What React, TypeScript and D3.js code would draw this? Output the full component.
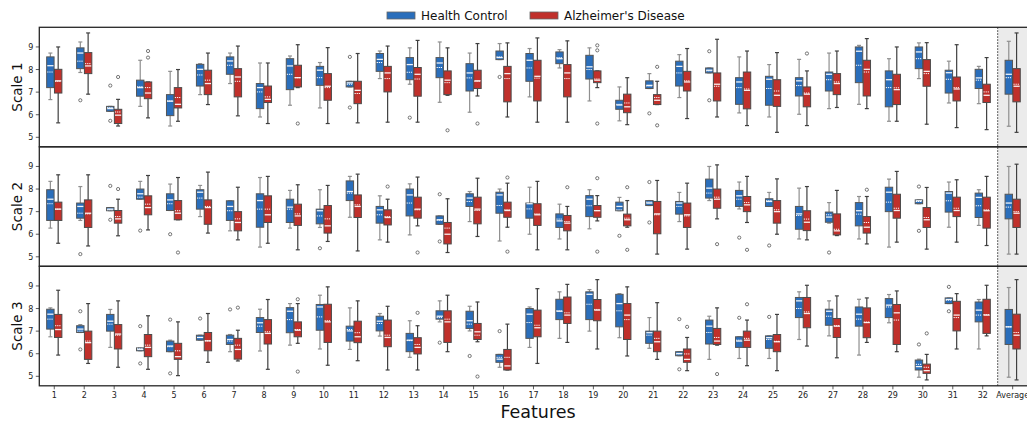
import React from 'react';
import * as d3 from 'd3';

// [whiskerLow, q1, median, q3, whiskerHigh, mean]
type Stat = [number, number, number, number, number, number];

const featureLabels = [
  '1', '2', '3', '4', '5', '6', '7', '8', '9', '10', '11', '12', '13', '14', '15', '16',
  '17', '18', '19', '20', '21', '22', '23', '24', '25', '26', '27', '28', '29', '30', '31', '32', 'Average',
];
const yTicks = [5, 6, 7, 8, 9];
const groups = ['Health Control', "Alzheimer's Disease"];
const colors = ['#2a6ebb', '#c0302b'];

const scale1HC: Stat[] = [
  [6.67, 7.2, 8.17, 8.56, 8.73, 7.89], [7.87, 8.04, 8.73, 8.96, 9.22, 8.37], [6.15, 6.15, 6.27, 6.37, 6.37, 6.32],
  [6.37, 6.82, 7.2, 7.53, 8.41, 7.24], [5.5, 5.96, 6.6, 6.89, 7.92, 6.61], [6.89, 7.27, 8.01, 8.23, 8.26, 7.76],
  [7.38, 7.79, 8.38, 8.56, 8.73, 8.19], [5.9, 6.27, 7.2, 7.38, 8.29, 7.01], [6.42, 7.11, 8.16, 8.48, 8.6, 7.79],
  [6.3, 7.3, 7.97, 8.14, 8.31, 7.64], [7.23, 7.23, 7.41, 7.48, 7.48, 7.35], [7.6, 7.92, 8.45, 8.71, 8.82, 8.31],
  [7.35, 7.55, 8.22, 8.53, 8.96, 7.88], [6.55, 7.64, 8.29, 8.53, 9.22, 8.09], [6.11, 7.05, 7.85, 8.26, 8.73, 7.63],
  [8.44, 8.44, 8.53, 8.82, 9.15, 8.56], [6.79, 7.48, 8.41, 8.71, 8.93, 8.07], [8.07, 8.26, 8.48, 8.78, 8.88, 8.53],
  [6.61, 7.58, 8.12, 8.63, 8.96, 8.0], [5.73, 6.24, 6.43, 6.64, 7.23, 6.46], [7.16, 7.16, 7.3, 7.5, 7.82, 7.27],
  [6.76, 7.27, 8.14, 8.37, 8.66, 7.85], [7.85, 7.85, 7.97, 8.07, 8.07, 7.94], [6.08, 6.46, 7.45, 7.64, 8.56, 7.2],
  [5.9, 6.42, 7.57, 7.7, 8.22, 7.16], [6.02, 6.83, 7.5, 7.64, 8.45, 7.29], [6.27, 7.05, 7.79, 7.89, 8.73, 7.55],
  [6.46, 7.42, 8.81, 9.0, 9.07, 8.19], [5.71, 6.35, 7.55, 7.94, 8.48, 7.2], [7.6, 8.04, 8.78, 9.0, 9.18, 8.48],
  [6.52, 6.96, 7.86, 7.97, 8.37, 7.57], [6.49, 7.16, 7.63, 8.01, 8.14, 7.53], [5.49, 6.91, 7.79, 8.41, 9.25, 7.64],
];
const scale1AD: Stat[] = [
  [5.64, 6.96, 7.5, 8.01, 9.0, 7.48], [6.91, 7.82, 8.16, 8.75, 9.62, 8.26], [5.5, 5.61, 5.98, 6.24, 6.68, 6.12],
  [5.86, 6.71, 6.96, 7.45, 7.45, 7.2], [5.71, 6.3, 6.46, 7.2, 8.0, 6.76], [6.45, 6.89, 7.38, 7.97, 8.73, 7.53],
  [5.95, 6.79, 7.67, 8.04, 9.04, 7.48], [5.61, 6.54, 6.68, 7.27, 8.29, 6.79], [7.2, 7.23, 7.64, 8.19, 9.1, 7.64],
  [5.61, 6.64, 7.26, 7.82, 8.97, 7.2], [5.64, 6.49, 7.08, 7.48, 8.71, 6.94], [5.67, 7.01, 7.85, 8.14, 9.04, 7.6],
  [5.67, 6.82, 7.79, 8.09, 9.29, 7.58], [6.86, 6.89, 7.53, 7.94, 8.96, 7.42], [6.83, 7.16, 7.5, 7.97, 9.15, 7.48],
  [5.9, 6.57, 7.82, 8.14, 9.18, 7.6], [5.67, 6.61, 7.7, 8.41, 9.4, 7.62], [5.67, 6.79, 7.85, 8.22, 9.27, 7.6],
  [7.2, 7.42, 7.53, 7.94, 7.94, 7.58], [5.56, 6.09, 6.35, 6.91, 7.64, 6.52], [6.45, 6.45, 6.64, 6.89, 7.48, 6.76],
  [5.83, 7.05, 7.45, 7.92, 8.93, 7.5], [5.9, 6.61, 7.35, 7.85, 9.34, 7.26], [5.52, 6.26, 7.08, 7.89, 8.82, 7.14],
  [5.22, 6.37, 6.86, 7.55, 8.75, 7.05], [5.52, 6.35, 6.91, 7.23, 7.94, 6.96], [6.32, 6.89, 7.38, 7.82, 8.82, 7.45],
  [6.27, 6.83, 8.01, 8.41, 9.37, 7.89], [5.71, 6.45, 7.11, 7.79, 9.0, 7.19], [5.58, 7.26, 7.92, 8.44, 9.19, 7.82],
  [5.43, 6.61, 7.14, 7.67, 9.1, 7.2], [5.34, 6.54, 6.86, 7.35, 8.53, 7.01], [5.22, 6.57, 7.26, 8.04, 9.62, 7.35],
];
const scale2HC: Stat[] = [
  [6.27, 6.61, 7.55, 7.97, 8.34, 7.35], [6.61, 6.71, 7.23, 7.38, 8.11, 6.93], [7.04, 7.04, 7.11, 7.18, 7.18, 7.08],
  [7.55, 7.55, 7.79, 8.0, 8.34, 7.64], [7.05, 7.05, 7.52, 7.79, 8.22, 7.35], [6.78, 7.11, 7.86, 7.97, 8.16, 7.6],
  [6.15, 6.61, 7.23, 7.48, 7.48, 7.04], [5.43, 6.31, 7.49, 7.79, 8.51, 7.11], [6.27, 6.52, 7.2, 7.55, 7.94, 7.11],
  [6.3, 6.46, 7.04, 7.11, 7.97, 6.81], [6.75, 7.49, 7.89, 8.36, 8.56, 7.82], [5.75, 6.49, 7.08, 7.23, 7.7, 6.86],
  [5.97, 6.81, 7.74, 8.0, 8.23, 7.38], [6.44, 6.44, 6.64, 6.81, 6.81, 6.62], [6.56, 7.23, 7.6, 7.79, 7.89, 7.45],
  [5.7, 6.93, 7.74, 7.86, 8.0, 7.27], [6.0, 6.71, 7.35, 7.38, 8.08, 7.12], [5.79, 6.3, 6.59, 6.9, 7.33, 6.67],
  [6.24, 6.78, 7.55, 7.71, 7.97, 7.26], [7.04, 7.04, 7.23, 7.42, 7.63, 7.08], [7.27, 7.27, 7.38, 7.49, 7.49, 7.42],
  [6.56, 6.89, 7.38, 7.45, 7.85, 7.23], [7.49, 7.6, 8.04, 8.44, 9.0, 7.82], [7.12, 7.23, 7.7, 7.94, 8.31, 7.55],
  [7.23, 7.23, 7.45, 7.57, 7.85, 7.48], [5.79, 6.22, 6.9, 7.23, 8.04, 6.83], [6.49, 6.53, 6.76, 6.98, 7.4, 6.86],
  [5.79, 6.37, 7.04, 7.4, 7.67, 6.89], [5.43, 7.0, 7.86, 8.08, 8.44, 7.42], [7.35, 7.35, 7.48, 7.52, 7.52, 7.45],
  [6.31, 6.98, 7.82, 7.89, 8.31, 7.48], [6.39, 6.74, 7.63, 7.82, 7.97, 7.26], [5.12, 6.68, 7.38, 7.77, 9.0, 7.2],
];
const scale2AD: Stat[] = [
  [5.6, 6.61, 7.11, 7.42, 8.63, 7.11], [5.48, 6.3, 6.93, 7.52, 8.63, 6.9], [5.93, 6.49, 6.68, 7.05, 7.55, 6.78],
  [6.19, 6.86, 7.18, 7.7, 8.6, 7.33], [6.64, 6.64, 6.93, 7.49, 8.51, 7.04], [6.05, 6.44, 7.18, 7.52, 8.75, 7.23],
  [5.75, 6.15, 6.52, 7.0, 8.08, 6.68], [5.6, 6.52, 6.86, 7.7, 8.56, 7.11], [5.31, 6.39, 6.81, 7.33, 8.19, 6.9],
  [5.68, 6.05, 6.37, 7.27, 8.16, 6.68], [5.26, 6.74, 7.23, 7.74, 8.66, 7.3], [5.65, 6.41, 6.74, 7.08, 7.55, 6.78],
  [6.37, 6.71, 7.11, 7.64, 8.53, 7.08], [5.19, 5.57, 6.0, 6.52, 7.57, 6.27], [5.9, 6.46, 7.11, 7.64, 8.48, 7.05],
  [6.31, 6.75, 7.05, 7.42, 8.26, 7.08], [5.31, 6.39, 6.86, 7.35, 8.34, 6.9], [5.31, 6.15, 6.49, 6.83, 7.23, 6.56],
  [6.59, 6.75, 7.04, 7.27, 7.71, 7.05], [6.31, 6.37, 6.64, 6.89, 7.49, 6.71], [5.12, 6.02, 6.9, 7.45, 8.38, 6.86],
  [5.34, 6.3, 6.86, 7.38, 8.26, 6.81], [6.68, 7.15, 7.55, 8.0, 9.07, 7.64], [6.52, 7.0, 7.3, 7.67, 8.56, 7.4],
  [6.0, 6.49, 7.0, 7.49, 8.45, 7.08], [5.75, 6.16, 6.53, 7.04, 8.11, 6.67], [5.94, 5.97, 6.15, 6.9, 7.94, 6.22],
  [5.57, 6.05, 6.31, 6.78, 7.67, 6.52], [5.65, 6.71, 7.05, 7.77, 8.78, 7.15], [5.34, 6.3, 6.64, 7.18, 8.07, 6.74],
  [5.65, 6.78, 7.05, 7.64, 8.41, 7.15], [5.5, 6.27, 7.04, 7.64, 8.56, 7.08], [5.12, 6.3, 6.93, 7.55, 9.1, 7.0],
];
const scale3HC: Stat[] = [
  [6.75, 7.09, 7.75, 7.97, 8.03, 7.53], [6.94, 6.94, 7.09, 7.24, 7.29, 7.0], [6.28, 7.0, 7.44, 7.74, 7.96, 7.31],
  [6.13, 6.13, 6.19, 6.26, 6.26, 6.24], [6.09, 6.09, 6.34, 6.56, 6.6, 6.31], [6.6, 6.6, 6.72, 6.82, 6.82, 6.72],
  [6.09, 6.41, 6.63, 6.82, 6.85, 6.56], [6.12, 6.94, 7.37, 7.6, 7.97, 7.22], [6.38, 6.93, 7.88, 8.04, 8.22, 7.51],
  [6.21, 7.04, 8.07, 8.18, 8.59, 7.63], [6.19, 6.56, 7.01, 7.22, 8.03, 7.07], [6.78, 7.01, 7.44, 7.66, 7.78, 7.34],
  [5.84, 6.09, 6.6, 6.9, 7.46, 6.58], [7.41, 7.53, 7.66, 7.9, 8.34, 7.6], [7.01, 7.12, 7.46, 7.88, 8.1, 7.31],
  [5.4, 5.62, 5.76, 5.97, 5.97, 5.84], [6.28, 6.68, 7.75, 8.0, 8.07, 7.38], [6.68, 7.51, 7.88, 8.41, 8.74, 7.9],
  [7.0, 7.51, 8.63, 8.74, 8.84, 8.19], [6.71, 7.19, 8.22, 8.63, 8.66, 7.9], [6.24, 6.46, 6.93, 7.0, 7.6, 6.82],
  [5.91, 5.91, 6.01, 6.09, 6.09, 5.99], [5.75, 6.43, 7.22, 7.49, 7.66, 6.94], [5.79, 6.28, 6.56, 6.75, 6.75, 6.6],
  [5.79, 6.24, 6.71, 6.79, 6.79, 6.63], [6.63, 7.6, 8.34, 8.49, 8.74, 8.0], [6.79, 7.26, 7.88, 7.97, 8.34, 7.66],
  [5.94, 7.22, 7.75, 8.07, 8.41, 7.53], [7.37, 7.6, 8.15, 8.44, 8.62, 8.07], [4.96, 5.28, 5.43, 5.72, 5.76, 5.53],
  [8.22, 8.22, 8.4, 8.47, 8.47, 8.37], [6.21, 7.41, 7.93, 8.29, 8.4, 7.71], [4.96, 6.41, 7.19, 7.96, 8.93, 7.19],
];
const scale3AD: Stat[] = [
  [5.94, 6.72, 7.07, 7.74, 8.81, 7.24], [5.57, 5.75, 6.49, 7.0, 8.22, 6.56], [5.4, 6.21, 6.87, 7.29, 8.34, 6.82],
  [5.31, 5.87, 6.28, 6.85, 7.68, 6.38], [5.03, 5.75, 5.87, 6.46, 7.41, 6.13], [5.62, 6.13, 6.57, 6.94, 7.78, 6.57],
  [5.68, 5.76, 6.19, 6.68, 7.04, 6.38], [5.31, 6.43, 6.9, 7.51, 8.4, 6.97], [6.46, 6.75, 7.04, 7.41, 8.22, 7.07],
  [5.49, 6.5, 7.41, 8.19, 8.96, 7.46], [5.69, 6.49, 6.75, 7.44, 8.34, 6.93], [5.28, 6.31, 6.72, 7.49, 8.1, 6.82],
  [5.28, 5.99, 6.28, 6.71, 7.24, 6.41], [6.09, 6.5, 7.41, 7.9, 8.59, 7.53], [6.53, 6.63, 6.97, 7.34, 8.29, 6.82],
  [5.28, 5.28, 5.46, 6.19, 7.31, 5.84], [5.57, 6.75, 7.15, 7.93, 8.88, 7.26], [6.5, 7.34, 7.71, 8.51, 9.07, 7.81],
  [6.21, 7.46, 7.93, 8.4, 9.28, 7.96], [5.9, 6.63, 7.71, 8.22, 8.96, 7.51], [5.75, 6.09, 6.53, 7.0, 8.26, 6.68],
  [5.25, 5.62, 5.75, 6.21, 6.72, 5.99], [6.38, 6.41, 6.56, 7.12, 8.03, 6.72], [5.47, 6.28, 6.6, 7.0, 7.49, 6.68],
  [5.25, 6.09, 6.53, 6.85, 7.74, 6.55], [6.34, 7.15, 7.78, 8.49, 9.03, 7.85], [5.82, 6.72, 7.22, 7.56, 8.56, 7.24],
  [6.5, 6.71, 7.38, 8.03, 8.47, 7.4], [6.09, 6.41, 7.81, 8.18, 8.78, 7.49], [4.84, 5.13, 5.25, 5.54, 5.97, 5.4],
  [6.21, 7.01, 7.71, 8.32, 8.66, 7.6], [6.79, 6.9, 7.71, 8.41, 9.03, 7.73], [4.84, 6.21, 6.82, 7.75, 9.28, 6.94],
];

// outliers: [feature number, value]
const scale1HCOut: [number, number][] = [
  [2, 6.64], [3, 7.29], [3, 5.73], [11, 8.56], [11, 6.32], [13, 5.87], [16, 7.67], [21, 6.06], [23, 8.81], [23, 6.64],
];
const scale1ADOut: [number, number][] = [
  [3, 7.67], [4, 8.82], [4, 8.53], [9, 5.61], [14, 5.31], [15, 5.61], [19, 9.07], [19, 8.85], [19, 5.61],
  [21, 8.12], [21, 5.53], [26, 8.71],
];
const scale2HCOut: [number, number][] = [
  [2, 5.12], [3, 8.14], [3, 6.64], [4, 6.16], [5, 6.0], [10, 5.38], [14, 7.77], [14, 5.68], [20, 5.93],
  [21, 8.31], [21, 6.52], [24, 5.85], [25, 5.5], [27, 5.19], [30, 8.11], [30, 6.15],
];
const scale2ADOut: [number, number][] = [
  [3, 8.0], [5, 5.19], [12, 8.11], [13, 5.19], [16, 8.51], [16, 5.23], [18, 8.08], [19, 8.48], [19, 5.23],
  [20, 8.08], [20, 5.31], [23, 5.56], [24, 5.31], [28, 7.97],
];
const scale3HCOut: [number, number][] = [
  [2, 7.88], [2, 6.19], [4, 7.22], [4, 5.57], [5, 7.51], [5, 5.13], [6, 7.56], [7, 7.96], [14, 6.49], [15, 5.9],
  [16, 7.0], [22, 7.53], [22, 5.31], [24, 7.59], [25, 7.63], [30, 6.41], [31, 8.96], [31, 7.88],
];
const scale3ADOut: [number, number][] = [
  [7, 8.04], [9, 8.41], [9, 5.21], [13, 7.81], [15, 4.99], [22, 7.19], [23, 5.1], [24, 8.19], [30, 6.9],
];

const panels = [
  { label: 'Scale 1', stats: [scale1HC, scale1AD], outs: [scale1HCOut, scale1ADOut] },
  { label: 'Scale 2', stats: [scale2HC, scale2AD], outs: [scale2HCOut, scale2ADOut] },
  { label: 'Scale 3', stats: [scale3HC, scale3AD], outs: [scale3HCOut, scale3ADOut] },
];

const W = 1027;
const H = 424;
const left = 39.3;
const step = 29.95;
const top0 = 27.3;
const ph = 119.5;
const bw = 7.4;
const whiskerColors = ['#8f8f8f', '#3f3f3f'];
const edgeColors = ['#555', '#4a4a4a'];
const font = 'DejaVu Sans, sans-serif';

export default function App() {
  const x = d3.scaleLinear().domain([0.5, 33.5]).range([left, left + 33 * step]);
  const avgX = x(32.5);
  const bottom = top0 + 3 * ph;

  return (
    <svg width={W} height={H} style={{ position: 'absolute', left: 0, top: 0, background: '#fff' }} fontFamily={font}>
      {/* legend */}
      {groups.map((g, gi) => {
        const lx = gi === 0 ? 387 : 530;
        return (
          <g key={g}>
            <rect x={lx} y={12} width={28} height={7} fill={colors[gi]} stroke="#666" strokeWidth={0.8} />
            <text x={lx + 34} y={20} fontSize={12} fill="#111">{g}</text>
          </g>
        );
      })}

      {/* shaded Average column */}
      <rect x={avgX} y={top0} width={W - avgX} height={3 * ph} fill="#ebebeb" />
      <line x1={avgX} x2={avgX} y1={top0} y2={bottom} stroke="#333" strokeWidth={1} strokeDasharray="1.5,1.5" />

      {panels.map((p, pi) => {
        const pTop = top0 + pi * ph;
        const y = d3.scaleLinear().domain([4.58, 9.87]).range([pTop + ph, pTop]);
        return (
          <g key={p.label}>
            {yTicks.map((t) => (
              <g key={t}>
                <line x1={left - 3.5} x2={left} y1={y(t)} y2={y(t)} stroke="#333" strokeWidth={0.8} />
                <text x={left - 6} y={y(t) + 3} fontSize={8} textAnchor="end" fill="#222">{t}</text>
              </g>
            ))}
            <text
              transform={`translate(18,${pTop + ph / 2}) rotate(-90)`}
              textAnchor="middle"
              dominantBaseline="middle"
              fontSize={13.5}
              fill="#111"
            >
              {p.label}
            </text>

            {p.stats.map((series, gi) =>
              series.map((s, i) => {
                const c = x(i + 1);
                const x0 = gi === 0 ? c - bw - 0.2 : c + 0.2;
                const xm = x0 + bw / 2;
                const [wlo, q1, med, q3, whi, mean] = s;
                return (
                  <g key={`${gi}-${i}`}>
                    <line x1={xm} x2={xm} y1={y(q3)} y2={y(whi)} stroke={whiskerColors[gi]} strokeWidth={1.2} />
                    <line x1={xm} x2={xm} y1={y(q1)} y2={y(wlo)} stroke={whiskerColors[gi]} strokeWidth={1.2} />
                    <line x1={xm - 2} x2={xm + 2} y1={y(whi)} y2={y(whi)} stroke={whiskerColors[gi]} strokeWidth={1.2} />
                    <line x1={xm - 2} x2={xm + 2} y1={y(wlo)} y2={y(wlo)} stroke={whiskerColors[gi]} strokeWidth={1.2} />
                    <rect
                      x={x0}
                      y={y(q3)}
                      width={bw}
                      height={Math.max(1, y(q1) - y(q3))}
                      fill={colors[gi]}
                      stroke={edgeColors[gi]}
                      strokeWidth={1}
                    />
                    <line x1={x0 + 0.6} x2={x0 + bw - 0.6} y1={y(med)} y2={y(med)} stroke="#fff" strokeWidth={1.3} opacity={0.92} />
                    <line
                      x1={x0 + 0.6}
                      x2={x0 + bw - 0.6}
                      y1={y(mean)}
                      y2={y(mean)}
                      stroke="#fff"
                      strokeWidth={1}
                      strokeDasharray="1.2,0.9"
                    />
                  </g>
                );
              })
            )}
            {p.outs.map((list, gi) =>
              list.map(([f, v], k) => {
                const c = x(f);
                const xm = gi === 0 ? c - bw / 2 - 0.2 : c + bw / 2 + 0.2;
                return <circle key={`o${gi}-${k}`} cx={xm} cy={y(v)} r={1.6} fill="none" stroke="#555" strokeWidth={0.8} />;
              })
            )}
            <rect x={left} y={pTop} width={W} height={ph} fill="none" stroke="#262626" strokeWidth={1.3} />
          </g>
        );
      })}

      {/* x axis */}
      {featureLabels.map((f, i) => (
        <g key={f}>
          <line x1={x(i + 1)} x2={x(i + 1)} y1={bottom} y2={bottom + 3.5} stroke="#333" strokeWidth={0.8} />
          <text x={x(i + 1)} y={bottom + 12.5} fontSize={8} textAnchor="middle" fill="#222">{f}</text>
        </g>
      ))}
      <text x={538} y={418} fontSize={17.5} textAnchor="middle" fill="#111">Features</text>
    </svg>
  );
}
